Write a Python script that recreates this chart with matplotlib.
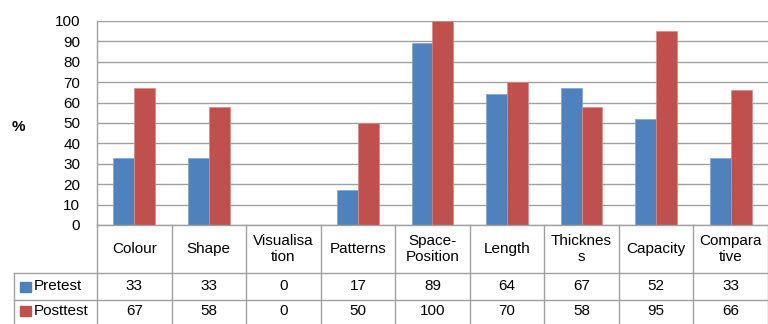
import matplotlib
matplotlib.use("Agg")
import matplotlib.pyplot as plt
from matplotlib.transforms import blended_transform_factory
from matplotlib.patches import Rectangle

plt.rcParams['font.family'] = ['Liberation Sans', 'DejaVu Sans']

categories = ["Colour", "Shape", "Visualisa\ntion", "Patterns", "Space-\nPosition",
              "Length", "Thicknes\ns", "Capacity", "Compara\ntive"]
pretest = [33, 33, 0, 17, 89, 64, 67, 52, 33]
posttest = [67, 58, 0, 50, 100, 70, 58, 95, 66]
series_names = ["Pretest", "Posttest"]
yticks = list(range(0, 101, 10))

BLUE = "#4F81BD"
RED = "#C0504D"
GRID = "#A0A0A0"
FS = 11

W, H = 768, 324
fig = plt.figure(figsize=(W / 100, H / 100), dpi=100)

# pixel layout helpers
def fy(py):
    return 1 - py / H

def fx(px):
    return px / W

left_px, top_px, zero_px = 97, 21, 225
ax = fig.add_axes([fx(left_px), fy(zero_px), 1 - fx(left_px), (zero_px - top_px) / H])

n = len(categories)
x = list(range(n))
bw = 0.28
ax.bar([i - bw / 2 for i in x], pretest, width=bw, color=BLUE, edgecolor="#7FA3D0", linewidth=0.5, zorder=3)
ax.bar([i + bw / 2 for i in x], posttest, width=bw, color=RED, edgecolor="#D98A88", linewidth=0.5, zorder=3)

ax.set_xlim(-0.5, n - 0.5)
ax.set_ylim(0, 100)
ax.set_yticks(yticks)
ax.set_yticklabels([str(v) for v in yticks], fontsize=FS)
ax.tick_params(axis="y", length=0, pad=12)
ax.set_xticks([])
ax.yaxis.grid(True, color=GRID, linewidth=1.0, zorder=0)
for s in ["top", "right", "bottom"]:
    ax.spines[s].set_visible(False)
ax.spines["left"].set_color(GRID)
ax.spines["left"].set_linewidth(1.0)

fig.text(fx(12), fy(127), "%", fontsize=FS, fontweight="bold", ha="left", va="center")

# data table underneath the axis
tr = blended_transform_factory(ax.transData, fig.transFigure)
row_cat_bot, row_pre_bot, row_post_bot = 273, 300, 330
legend_left = 14

def hline(py, x0_px):
    fig.add_artist(plt.Line2D([fx(x0_px), 1.0], [fy(py), fy(py)], color=GRID, linewidth=1.0))

def vline_fig(px, y0, y1):
    fig.add_artist(plt.Line2D([fx(px), fx(px)], [fy(y0), fy(y1)], color=GRID, linewidth=1.0))

hline(zero_px, left_px)
hline(row_cat_bot, legend_left)
hline(row_pre_bot, legend_left)
vline_fig(legend_left, row_cat_bot, row_post_bot)
vline_fig(left_px, zero_px, row_post_bot)
for i in range(1, n + 1):
    ax.plot([i - 0.5, i - 0.5], [fy(zero_px), fy(row_post_bot)], color=GRID, linewidth=1.0,
            transform=tr, clip_on=False)

for i, cat in enumerate(categories):
    ax.text(i, fy((zero_px + row_cat_bot) / 2), cat, transform=tr, ha="center", va="center",
            fontsize=FS, linespacing=1.2)
    ax.text(i, fy((row_cat_bot + row_pre_bot) / 2), str(pretest[i]), transform=tr,
            ha="center", va="center", fontsize=FS)
    ax.text(i, fy((row_pre_bot + 324) / 2 - 1), str(posttest[i]), transform=tr,
            ha="center", va="center", fontsize=FS)

for name, color, (r0, r1) in zip(series_names, [BLUE, RED],
                                 [(row_cat_bot, row_pre_bot), (row_pre_bot, 324)]):
    cy = (r0 + r1) / 2 - (1 if r1 == 324 else 0)
    fig.add_artist(Rectangle((fx(20), fy(cy + 5)), 11 / W, 10 / H, color=color,
                             transform=fig.transFigure))
    fig.text(fx(34), fy(cy), name, fontsize=FS, ha="left", va="center")

fig.savefig("out.png", dpi=100)
